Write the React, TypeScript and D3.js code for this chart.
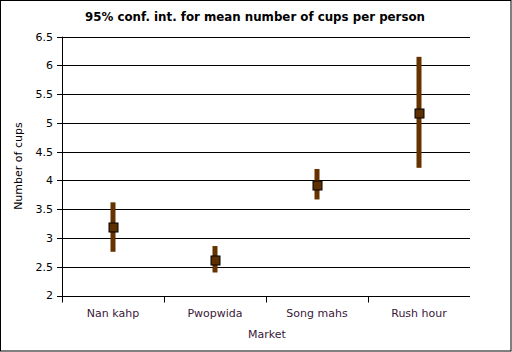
import * as d3 from "d3";

// 95% CI per market
const MARKETS = ["Nan kahp", "Pwopwida", "Song mahs", "Rush hour"];
const MEANS = [3.19, 2.62, 3.93, 5.18];
const LOWER = [2.76, 2.4, 3.67, 4.22];
const UPPER = [3.62, 2.86, 4.2, 6.15];
const Y_TICKS = [2, 2.5, 3, 3.5, 4, 4.5, 5, 5.5, 6, 6.5];

const W = 512;
const H = 352;
const PLOT = { left: 62, right: 470, top: 36.7, bottom: 295.5 };
const FONT = "'DejaVu Sans', Verdana, sans-serif";
const BROWN = "#663300";
const LABEL = "#3a1838";

export default function App() {
  const y = d3.scaleLinear().domain([2, 6.5]).range([PLOT.bottom, PLOT.top]);
  const x = d3.scaleBand().domain(MARKETS).range([PLOT.left, PLOT.right]).padding(0);
  const bw = x.bandwidth();
  const crisp = (v: number) => Math.round(v) + 0.5;

  return (
    <div style={{ position: "absolute", left: 0, top: 0 }}>
      <svg width={W} height={H} style={{ display: "block" }}>
        <rect x={0} y={0} width={W} height={H} fill="white" />
        <rect x={0.5} y={0.5} width={W - 1.5} height={H - 1.5}
          fill="none" stroke="black" strokeWidth={1} />

        {/* Title */}
        <text x={255} y={20.5} textAnchor="middle" fontFamily={FONT}
          fontSize={12} fontWeight="bold" fill="black"
          textLength={340} lengthAdjust="spacingAndGlyphs">
          95% conf. int. for mean number of cups per person
        </text>

        {/* Gridlines + y ticks */}
        {Y_TICKS.map((t) => (
          <g key={t}>
            <line x1={PLOT.left - 5} x2={PLOT.right}
              y1={crisp(y(t))} y2={crisp(y(t))}
              stroke="black" strokeWidth={1} />
            <text x={53} y={y(t)} dy="0.36em" textAnchor="end"
              fontFamily={FONT} fontSize={11} fill="black">
              {t}
            </text>
          </g>
        ))}

        {/* Y axis */}
        <line x1={crisp(PLOT.left)} x2={crisp(PLOT.left)}
          y1={y(6.5)} y2={crisp(y(2)) + 0.5}
          stroke="black" strokeWidth={1} />

        {/* Category ticks */}
        {MARKETS.map((m) => (
          <line key={m} x1={crisp(x(m) ?? 0)} x2={crisp(x(m) ?? 0)}
            y1={crisp(y(2))} y2={crisp(y(2)) + 6}
            stroke="black" strokeWidth={1} />
        ))}

        {/* Category labels */}
        {MARKETS.map((m) => (
          <text key={m} x={(x(m) ?? 0) + bw / 2} y={317}
            textAnchor="middle" fontFamily={FONT} fontSize={11} fill={LABEL}>
            {m}
          </text>
        ))}

        {/* Axis titles */}
        <text x={267} y={338} textAnchor="middle" fontFamily={FONT}
          fontSize={11} fill={LABEL}>
          Market
        </text>
        <text transform={`translate(22,${(PLOT.top + PLOT.bottom) / 2}) rotate(-90)`}
          textAnchor="middle" fontFamily={FONT} fontSize={11} fill="black">
          Number of cups
        </text>

        {/* Error bars */}
        {MARKETS.map((m, i) => {
          const cx = (x(m) ?? 0) + bw / 2;
          return (
            <g key={m}>
              <rect x={cx - 2.5} y={y(UPPER[i])} width={5}
                height={y(LOWER[i]) - y(UPPER[i])} fill={BROWN} />
              <rect x={Math.round(cx) - 4} y={Math.round(y(MEANS[i])) - 4}
                width={9} height={9} fill="#5e3000" stroke="black" strokeWidth={1} />
            </g>
          );
        })}
      </svg>
    </div>
  );
}
